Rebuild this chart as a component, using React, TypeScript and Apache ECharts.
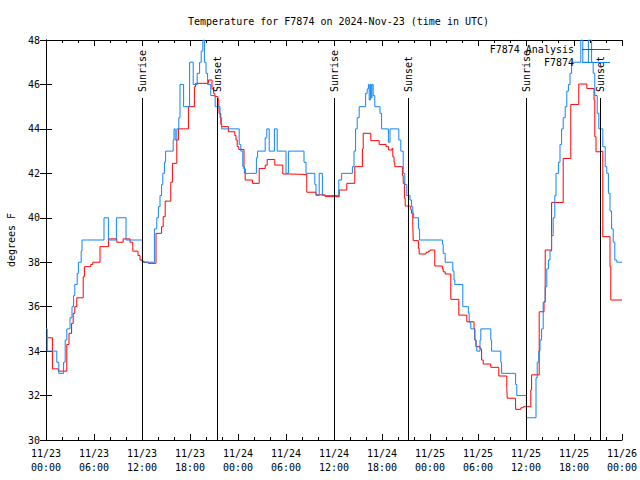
import React, { useEffect, useRef } from 'react';
import * as echarts from 'echarts';

const chartTitle = 'Temperature for F7874 on 2024-Nov-23 (time in UTC)';
const yAxisTitle = 'degrees F';
const analysisName = 'F7874 Analysis';
const observedName = 'F7874';

// x values are hours since 2024-11-23 00:00 UTC
const xTickLabels = [
  '11/23\n00:00', '11/23\n06:00', '11/23\n12:00', '11/23\n18:00',
  '11/24\n00:00', '11/24\n06:00', '11/24\n12:00', '11/24\n18:00',
  '11/25\n00:00', '11/25\n06:00', '11/25\n12:00', '11/25\n18:00',
  '11/26\n00:00',
];

const sunriseHours = [12.03, 36.03, 60.0];
const sunsetHours = [21.33, 45.3, 69.27];

const analysis: [number, number][] = [
  [0, 34.6], [0.8, 33.2], [1.55, 33.1], [2.6, 34.3], [2.875, 34.8], [3.2, 35.25], [3.4, 35.7], [3.6, 36],
  [3.85, 36.4], [4.65, 37.35], [4.8, 37.8], [5.6, 37.9], [5.85, 38], [6.75, 38.7], [7.8, 39.05], [8.85, 38.9],
  [9.65, 39.05], [10.5, 38.9], [10.85, 38.5], [11.5, 38.3], [11.75, 38.1], [12.0, 38.05], [12.25, 38.0],
  [12.8, 37.95], [13.75, 39.3], [14.45, 39.6], [14.65, 40.05], [14.9, 40.75], [15.6, 41.6], [15.8, 42.45],
  [16.35, 43.5], [16.55, 44], [17.8, 45], [18.55, 45.9], [18.7, 46.05], [20.3, 46.2], [20.75, 45.8],
  [20.95, 45.6], [21.1, 45.45], [21.5, 45.3], [21.6, 45.0], [21.65, 44.7], [21.85, 44.2], [21.95, 44.1],
  [22.8, 43.87], [23.6, 43.7], [23.75, 43.5], [23.9, 43.2], [24.1, 43.07], [24.75, 42.2], [24.9, 41.7],
  [25.8, 41.55], [26.65, 42.22], [27.4, 42.37], [27.65, 42.62], [28.6, 42.37], [29.6, 41.97], [30.5, 41.95],
  [32.6, 41.15], [33.75, 41.03], [34.9, 40.95], [36.65, 41.25], [37.6, 41.55], [38.6, 42.3], [39.55, 43.1],
  [39.65, 43.8], [40.6, 43.47], [41.65, 43.3], [42.5, 43.2], [42.8, 43.05], [43.25, 43.12], [43.35, 42.75],
  [43.5, 42.5], [43.6, 42.3], [44.55, 41.9], [44.65, 41.55], [44.8, 40.88], [44.9, 40.53], [45.5, 40.5],
  [45.6, 40.35], [45.7, 40.2], [45.85, 39.67], [45.9, 38.97], [46.55, 38.62], [46.65, 38.37], [47.5, 38.45],
  [47.8, 38.5], [48.0, 38.55], [48.6, 37.83], [49.55, 37.7], [49.65, 37.57], [49.9, 37.47], [50.6, 36.33],
  [51.6, 35.62], [52.6, 35.32], [53.5, 35.0], [53.6, 34.5], [53.75, 34.2], [54.25, 34.1], [54.45, 33.6],
  [54.65, 33.42], [55.6, 33.27], [56.6, 32.88], [57.6, 32.37], [57.65, 31.88], [58.7, 31.38], [59.35, 31.45],
  [59.65, 31.5], [60.6, 32.25], [60.7, 32.93], [61.65, 35.77], [62.25, 36.22], [62.4, 38.55], [63.2, 40.69],
  [64.65, 42.67], [65.6, 45.1], [66.6, 46.02], [67.6, 45.82], [68.5, 45.3], [68.6, 43.65], [68.75, 42.97],
  [69.35, 43.0], [69.6, 39.15], [70.5, 37.8], [70.6, 36.3], [72, 36.3],
];

const observed: [number, number][] = [
  [0, 35], [0.15, 34], [1.35, 33.5], [1.6, 33], [2.2, 33.5], [2.4, 34.5], [2.6, 35], [3.0, 35.5], [3.25, 36],
  [3.45, 36.5], [3.6, 37], [3.9, 37.5], [4.05, 38], [4.4, 38.5], [4.5, 39], [7.25, 40], [7.8, 39], [8.8, 40],
  [10.0, 39], [12.05, 38], [13.55, 39.5], [13.85, 40], [14.05, 40.5], [14.25, 41], [14.45, 41.5], [14.6, 42],
  [14.8, 42.5], [14.95, 43], [15.9, 43.5], [16.0, 44], [16.15, 43.5], [16.35, 44], [16.6, 44.5], [16.75, 46],
  [17.2, 45], [17.95, 47], [18.4, 46], [18.9, 46.5], [19.2, 47], [19.4, 47.5], [19.6, 48], [19.8, 47],
  [20.0, 46.5], [20.2, 46], [20.6, 45.5], [21.15, 45], [21.75, 44.5], [21.95, 44], [24.15, 43.3], [24.35, 43],
  [24.6, 42.3], [24.8, 42], [26.3, 42.7], [26.45, 43], [27.4, 43.6], [27.6, 44], [27.9, 43], [28.55, 44],
  [28.9, 43], [30.0, 42], [30.3, 43], [32.25, 42.5], [32.5, 42], [33.6, 41.5], [33.75, 41], [34.15, 42],
  [34.55, 41], [36.6, 41.7], [36.95, 42], [38.3, 42.3], [38.5, 43], [38.7, 44], [38.9, 44.5], [39.15, 45],
  [39.95, 45.6], [40.15, 45.8], [40.3, 46], [40.4, 45.3], [40.55, 46], [40.65, 45.4], [40.75, 46], [40.9, 45.5],
  [41.1, 45], [41.75, 44.7], [41.95, 44], [42.8, 43.4], [43.0, 44], [44.1, 43.5], [44.35, 43], [44.65, 42],
  [44.85, 41.5], [45.1, 41], [45.5, 40.8], [45.7, 40.5], [45.85, 40.2], [45.95, 40], [46.55, 39.5], [46.7, 39],
  [49.55, 38.8], [49.65, 38.4], [49.9, 38], [50.85, 37.6], [51.0, 37.2], [51.1, 37], [52.1, 36], [52.8, 35.7],
  [52.9, 35.3], [53.1, 35], [53.6, 34.5], [53.75, 34.2], [53.85, 34], [54.25, 34.5], [54.35, 35], [55.6, 34.5],
  [55.7, 34], [56.85, 33.5], [56.95, 33], [58.7, 32.5], [58.85, 32], [60.05, 31], [61.25, 32.8], [61.4, 33.5],
  [61.6, 34], [61.75, 34.5], [61.95, 35], [62.15, 36.2], [62.4, 36.9], [62.6, 37.7], [62.8, 38.1], [63.0, 38.5],
  [63.2, 39.2], [63.4, 40], [63.6, 41], [63.75, 42], [64.05, 42.5], [64.25, 43.3], [64.45, 44], [64.65, 44.5],
  [64.9, 45], [65.1, 45.7], [65.3, 46], [65.5, 46.5], [65.7, 47], [66.85, 48], [67.1, 47], [67.8, 48],
  [68.2, 47], [68.4, 46.5], [68.6, 45.5], [68.9, 44.7], [69.1, 44], [69.6, 43.2], [69.9, 42.3], [70.1, 42],
  [70.3, 41.1], [70.5, 40.3], [70.7, 39.5], [70.9, 38.9], [71.1, 38.1], [71.35, 38], [72, 38],
];

const FONT = "'DejaVu Sans Mono', monospace";
const RED = '#ff0000';
const BLUE = '#1285f5';

export default function App() {
  const ref = useRef<HTMLDivElement>(null);

  useEffect(() => {
    const chart = echarts.init(ref.current!, null, { renderer: 'svg' });
    const axisLine = { show: true, lineStyle: { color: '#000', width: 1 } };
    const xCommon = {
      type: 'value',
      min: 0,
      max: 72,
      interval: 6,
      axisLine,
      axisTick: { show: true, inside: true, length: 6, lineStyle: { color: '#000' } },
      minorTick: { show: true, splitNumber: 3, length: 3, lineStyle: { color: '#000' } },
      splitLine: { show: false },
      minorSplitLine: { show: false },
    };
    const yCommon = {
      type: 'value',
      min: 30,
      max: 48,
      interval: 2,
      axisLine,
      axisTick: { show: true, inside: true, length: 6, lineStyle: { color: '#000' } },
      splitLine: { show: false },
    };
    chart.setOption({
      animation: false,
      backgroundColor: '#fff',
      title: {
        text: chartTitle,
        left: 183,
        top: 11,
        textStyle: { fontFamily: FONT, fontSize: 10, fontWeight: 'normal', color: '#000' },
      },
      grid: { left: 46, right: 18, top: 40, bottom: 40, containLabel: false, outerBoundsMode: 'none' },
      xAxis: [
        {
          ...xCommon,
          position: 'bottom',
          axisLabel: {
            show: true,
            margin: 6,
            fontFamily: FONT,
            fontSize: 10,
            lineHeight: 14,
            color: '#000',
            formatter: (v: number) => xTickLabels[Math.round(v / 6)] ?? '',
          },
        },
        { ...xCommon, position: 'top', axisLabel: { show: false } },
      ],
      yAxis: [
        {
          ...yCommon,
          position: 'left',
          name: yAxisTitle,
          nameLocation: 'middle',
          nameGap: 30,
          nameTextStyle: { fontFamily: FONT, fontSize: 10, color: '#000' },
          axisLabel: { show: true, margin: 6, fontFamily: FONT, fontSize: 10, color: '#000' },
        },
        { ...yCommon, position: 'right', axisLabel: { show: false } },
      ],
      series: [
        {
          name: analysisName,
          type: 'line',
          step: 'end',
          symbol: 'none',
          data: analysis,
          lineStyle: { color: RED, width: 1 },
          itemStyle: { color: RED },
          z: 2,
        },
        {
          name: observedName,
          type: 'line',
          step: 'end',
          symbol: 'none',
          data: observed,
          lineStyle: { color: BLUE, width: 1 },
          itemStyle: { color: BLUE },
          z: 3,
        },
      ],
    });

    const bottomPx = chart.convertToPixel({ yAxisIndex: 0 }, 30) as number;
    const lineTop = 98;
    const events = [
      ...sunriseHours.map((h) => ({ h, label: 'Sunrise' })),
      ...sunsetHours.map((h) => ({ h, label: 'Sunset' })),
    ];
    const graphics: any[] = [];
    events.forEach((e) => {
      const x = Math.round(chart.convertToPixel({ xAxisIndex: 0 }, e.h) as number) + 0.5;
      graphics.push({
        type: 'line',
        shape: { x1: x, y1: lineTop, x2: x, y2: bottomPx },
        style: { stroke: '#000', lineWidth: 1 },
        z: 10,
      });
      graphics.push({
        type: 'text',
        x: x,
        y: 92,
        rotation: Math.PI / 2,
        style: {
          text: e.label,
          font: `10px ${FONT}`,
          fill: '#000',
          align: 'left',
          verticalAlign: 'middle',
        },
        z: 11,
      });
    });
    // key (legend) in gnuplot style: text then sample line
    const keyItems = [
      { name: analysisName, color: RED, y: 49 },
      { name: observedName, color: BLUE, y: 62 },
    ];
    keyItems.forEach((k) => {
      graphics.push({
        type: 'text',
        x: 574,
        y: k.y,
        style: { text: k.name, font: `10px ${FONT}`, fill: '#000', align: 'right', verticalAlign: 'middle' },
        z: 12,
      });
      graphics.push({
        type: 'line',
        shape: { x1: 582, y1: k.y + 0.5, x2: 610, y2: k.y + 0.5 },
        style: { stroke: k.color, lineWidth: 1 },
        z: 12,
      });
    });
    chart.setOption({ graphic: graphics });

    return () => chart.dispose();
  }, []);

  return <div ref={ref} style={{ position: 'absolute', left: 0, top: 0, width: 640, height: 480 }} />;
}
